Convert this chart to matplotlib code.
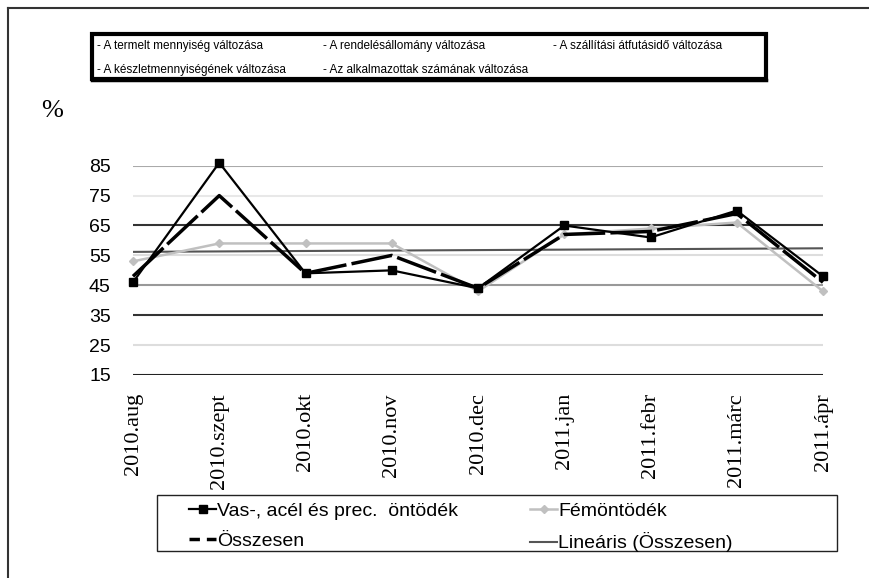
import numpy as np
import matplotlib.pyplot as plt
from matplotlib.patches import Rectangle
from matplotlib.lines import Line2D

honapok = ['2010.aug', '2010.szept', '2010.okt', '2010.nov', '2010.dec',
           '2011.jan', '2011.febr', '2011.márc', '2011.ápr']
vas_acel = [46, 86, 49, 50, 44, 65, 61, 70, 48]
femontodek = [53, 59, 59, 59, 43, 62, 64, 66, 43]
osszesen = [48, 75, 49, 55, 44, 62, 63, 69, 46]
y_ertekek = [15, 25, 35, 45, 55, 65, 75, 85]
felso_jelmagyarazat = [
    ['- A termelt mennyiség változása', '- A rendelésállomány változása',
     '- A szállítási átfutásidő változása'],
    ['- A készletmennyiségének változása', '- Az alkalmazottak számának változása'],
]
also_jelmagyarazat = ['Vas-, acél és prec.  öntödék', 'Fémöntödék',
                      'Összesen', 'Lineáris (Összesen)']

W, H = 869, 578
fig = plt.figure(figsize=(W / 100, H / 100), dpi=100)

# keret bal és felső oldala
fig.add_artist(Line2D([8 / W, 8 / W], [0, 1 - 8 / H], color='#333333', lw=1.5))
fig.add_artist(Line2D([8 / W, 1], [1 - 8 / H, 1 - 8 / H], color='#333333', lw=1.5))

# felső jelmagyarázat doboz
fig.add_artist(Rectangle((92 / W, 1 - 79 / H), (766 - 92) / W, (79 - 34) / H,
                         transform=fig.transFigure, fill=False, ec='black', lw=3))
fig.add_artist(Line2D([92 / W, 766 / W], [1 - 80 / H, 1 - 80 / H], color='black', lw=2.5))
oszlop_x = [97, 323, 553]
sor_y = [46, 70]
for i, sor in enumerate(felso_jelmagyarazat):
    for j, szoveg in enumerate(sor):
        fig.text(oszlop_x[j] / W, 1 - sor_y[i] / H, szoveg, fontsize=8.5,
                 family='Liberation Sans', va='center', ha='left')

fig.text(41 / W, 1 - 111 / H, '%', fontsize=19, family='Liberation Serif',
         va='center', ha='left')

ax = fig.add_axes([133 / W, 1 - 375 / H, (823 - 133) / W, (375 - 165.7) / H])
x = np.arange(len(honapok))

racs_szinek = ['#222222', '#dddddd', '#333333', '#999999', '#dddddd',
               '#333333', '#e8e8e8', '#aaaaaa']
for v, c in zip(y_ertekek, racs_szinek):
    ax.axhline(v, color=c, lw=1.5, zorder=0)

# lineáris trend az Összesen sorra
m, b = np.polyfit(x, osszesen, 1)
ax.plot(x, m * x + b, color='#555555', lw=1.5, zorder=1)

ax.plot(x, femontodek, color='#c0c0c0', lw=1.8, marker='D', ms=4,
        clip_on=False, zorder=2)
ax.plot(x, osszesen, color='black', lw=2.5, dashes=(12, 1.5),
        clip_on=False, zorder=3)
ax.plot(x, vas_acel, color='black', lw=1.6, marker='s', ms=6,
        clip_on=False, zorder=4)

ax.set_xlim(0, len(honapok) - 1)
ax.set_ylim(15, 85)
ax.set_yticks(y_ertekek)
ax.set_yticklabels([str(v) for v in y_ertekek], family='Liberation Sans', fontsize=14)
ax.set_xticks(x)
ax.set_xticklabels(honapok, rotation=90, family='Liberation Serif', fontsize=16)
ax.tick_params(length=0)
ax.tick_params(axis='y', pad=16)
ax.tick_params(axis='x', pad=13)
for s in ax.spines.values():
    s.set_visible(False)

# alsó jelmagyarázat: keret külön, soronként rendezve
fig.add_artist(Rectangle((157 / W, 1 - 551 / H), (837 - 157) / W, (551 - 495) / H,
                         transform=fig.transFigure, fill=False, ec='#222222', lw=1))
jelek = [
    Line2D([], [], color='black', lw=1.6, marker='s', ms=6),
    Line2D([], [], color='black', lw=2.5, dashes=(3, 2)),
    Line2D([], [], color='#c0c0c0', lw=1.8, marker='D', ms=4),
    Line2D([], [], color='#555555', lw=1.5),
]
cimkek = [also_jelmagyarazat[0], also_jelmagyarazat[2],
          also_jelmagyarazat[1], also_jelmagyarazat[3]]
fig.legend(jelek, cimkek, ncol=2, loc='upper left',
           bbox_to_anchor=(189 / W, 1 - 502 / H), frameon=False,
           prop={'family': 'Liberation Sans', 'size': 14},
           handlelength=1.4, handletextpad=0.05, columnspacing=3.7,
           labelspacing=0.66, borderpad=0, borderaxespad=0)

fig.savefig('out.png', dpi=100)
